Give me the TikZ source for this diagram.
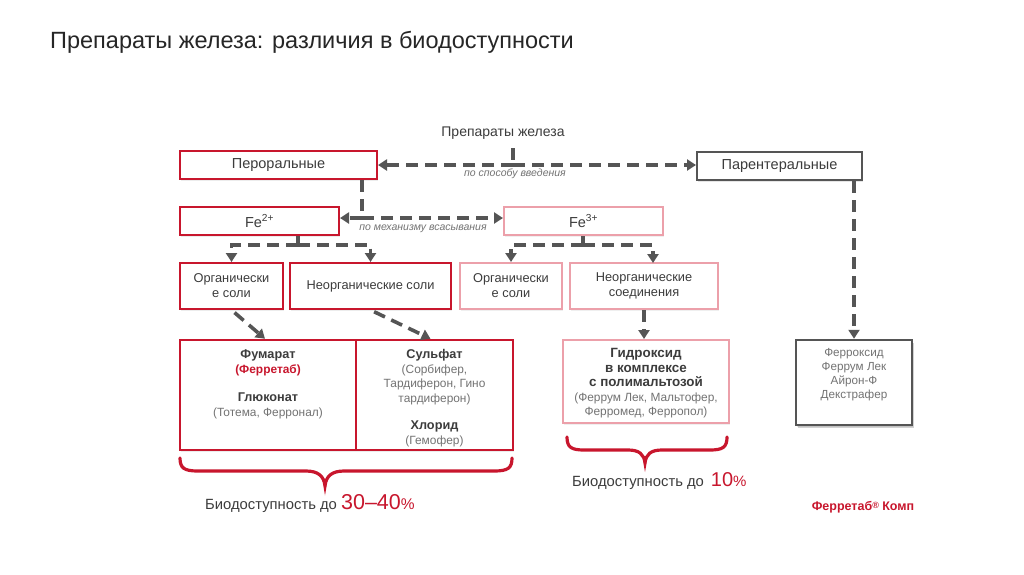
\documentclass[tikz,border=0pt]{standalone}
\usepackage{fontspec}
\setmainfont{Liberation Sans}
\usetikzlibrary{arrows.meta,shadows,calc}
\definecolor{rd}{RGB}{200,22,45}
\definecolor{pk}{RGB}{236,160,170}
\definecolor{dg}{RGB}{85,85,85}
\definecolor{tx}{RGB}{60,60,60}
\definecolor{lt}{RGB}{115,115,115}
\newcommand{\bl}[1]{\textcolor{tx}{\bfseries\fontsize{12.7}{14}\selectfont #1}}
\newcommand{\bh}[1]{\textcolor{tx}{\bfseries\fontsize{13.4}{15.5}\selectfont #1}}
\begin{document}
\begin{tikzpicture}[x=1pt,y=-1pt,
  every node/.style={text=tx, inner sep=0pt},
  lbl/.style={font=\fontsize{14.5}{16}\selectfont},
  sm/.style={font=\fontsize{12.8}{15}\selectfont, align=center},
  inner/.style={font=\fontsize{11.9}{14.5}\selectfont, align=center, text=lt},
  note/.style={font=\itshape\fontsize{10.5}{12}\selectfont, text=lt},
  rbox/.style={draw=rd, line width=2pt, fill=white, drop shadow={opacity=0.15,shadow xshift=1pt,shadow yshift=-2pt}},
  pbox/.style={draw=pk, line width=2pt, fill=white, drop shadow={opacity=0.12,shadow xshift=1pt,shadow yshift=-2pt}},
  gbox/.style={draw=dg, line width=2pt, fill=white, drop shadow={opacity=0.2,shadow xshift=1pt,shadow yshift=-2pt}},
  dl/.style={draw=dg, line width=3.6pt, dash pattern=on 12pt off 7pt},
  arr/.style={dl, -{Triangle[length=9pt,width=11pt]}},
  brc/.style={draw=rd, line width=3.2pt, line cap=round}
]
\useasboundingbox[fill=white] (0,0) rectangle (1024,574);

% title
\node[anchor=base west, font=\fontsize{23.5}{26}\selectfont, text=black!85] (title) at (50,48) {Препараты железа: различия в биодоступности};

% top
\node[font=\fontsize{14}{16}\selectfont] (prep) at (503,133) {Препараты железа};
\node[rbox, lbl, minimum width=197, minimum height=28] (per) at (278.5,165) {Пероральные};
\node[gbox, lbl, minimum width=165, minimum height=28] (par) at (779.5,166) {Парентеральные};
\coordinate (j1) at (513,165);
\draw[dl] (prep.south -| j1) ++(0,9) -- (j1);
\draw[arr] (j1) -- (j1 -| per.east);
\draw[arr] (j1) -- (j1 -| par.west);
\node[note] (n1) at (515,174) {по способу введения};

% Fe
\node[rbox, lbl, minimum width=159, minimum height=28] (fe2) at (259.5,221) {Fe\textsuperscript{2+}};
\node[pbox, lbl, minimum width=159, minimum height=28] (fe3) at (583.5,221) {Fe\textsuperscript{3+}};
\coordinate (j2) at (362,218);
\draw[dl] (per.south -| j2) -- (j2);
\draw[arr] (j2) -- (j2 -| fe2.east);
\draw[arr] (j2) -- (j2 -| fe3.west);
\node[note] (n2) at (423,229) {по механизму всасывания};

% row 3
\node[rbox, sm, minimum width=103, minimum height=46] (org1) at (231.5,286) {Органически\\е соли};
\node[rbox, sm, minimum width=161, minimum height=46] (inorg1) at (370.5,286) {Неорганические соли};
\node[pbox, sm, minimum width=102, minimum height=46] (org2) at (511,286) {Органически\\е соли};
\node[pbox, sm, minimum width=148, minimum height=46] (inorg2) at (644,286) {Неорганические\\соединения};

\coordinate (j3) at (298,245);
\draw[dl] (fe2.south -| j3) -- (j3);
\draw[arr] (j3) -| (org1.north);
\draw[arr] (j3) -| (inorg1.north);
\coordinate (j4) at (583,245);
\coordinate (k4) at (653,263);
\draw[dl] (fe3.south -| j4) -- (j4);
\draw[arr] (j4) -| (org2.north);
\draw[arr] (j4) -| (k4);

% big boxes
\node[rbox, line width=2.5pt, minimum width=176, minimum height=110] (big1) at (268,395) {};
\node[rbox, line width=2.5pt, minimum width=157, minimum height=110] (big2) at (434.5,395) {};
\node[pbox, minimum width=166, minimum height=83] (hyd) at (646,381.5) {};
\node[gbox, line width=2.5pt, minimum width=116, minimum height=85, drop shadow={opacity=0.35,shadow xshift=2pt,shadow yshift=-3pt}] (fer) at (854,382.5) {};

\draw[arr, shorten <=4pt] (org1.south) -- ([xshift=-3pt]big1.north);
\draw[arr, shorten <=4pt] (inorg1.south) -- ([xshift=-4pt]big2.north);
\draw[arr] (inorg2.south) -- (inorg2.south |- hyd.north);
\draw[arr] (par.south -| fer.north) -- (fer.north);

\node[inner, anchor=north] (t1) at (268,349.5) {\bl{Фумарат}\\\textcolor{rd}{\bfseries(Ферретаб)}\\[14pt]\bl{Глюконат}\\(Тотема, Ферронал)};
\node[inner, anchor=north] (t2) at (434.5,349.5) {\bl{Сульфат}\\(Сорбифер,\\Тардиферон, Гино\\тардиферон)\\[13pt]\bl{Хлорид}\\(Гемофер)};
\node[inner, anchor=north] (t3) at (646,348.5) {\bh{Гидроксид}\\\bh{в комплексе}\\\bh{с полимальтозой}\\(Феррум Лек, Мальтофер,\\Ферромед, Ферропол)};
\node[inner, anchor=north, font=\fontsize{11.7}{14}\selectfont] (t4) at (854,348.5) {Ферроксид\\Феррум Лек\\Айрон-Ф\\Декстрафер};

% braces
\draw[brc] (180,458) .. controls (180,468) and (184,471) .. (198,471) -- (306,471) .. controls (318,471) and (324,476) .. (325,486) .. controls (326,476) and (332,471) .. (344,471) -- (494,471) .. controls (508,471) and (512,468) .. (512,458);
\draw[brc] (567,437) .. controls (567,447) and (571,450) .. (584,450) -- (628,450) .. controls (639,450) and (644,454) .. (645,463) .. controls (646,454) and (651,450) .. (662,450) -- (710,450) .. controls (723,450) and (727,447) .. (727,437);

% bioavailability
\node[anchor=base west, font=\fontsize{14.8}{16}\selectfont] (b1) at (205,509) {Биодоступность до \textcolor{rd}{\fontsize{21.5}{22}\selectfont 30–40\fontsize{15.5}{16}\selectfont\%}};
\node[anchor=base west, font=\fontsize{14.8}{16}\selectfont] (b2) at (572,486) {Биодоступность до\hspace{7pt}\textcolor{rd}{\fontsize{20}{22}\selectfont 10\fontsize{15}{16}\selectfont\%}};
\node[font=\bfseries\fontsize{12.5}{14}\selectfont, text=rd] (fk) at (863,507) {Ферретаб{\fontsize{9}{9}\selectfont\raisebox{2pt}{®}} Комп};
\end{tikzpicture}
\end{document}
